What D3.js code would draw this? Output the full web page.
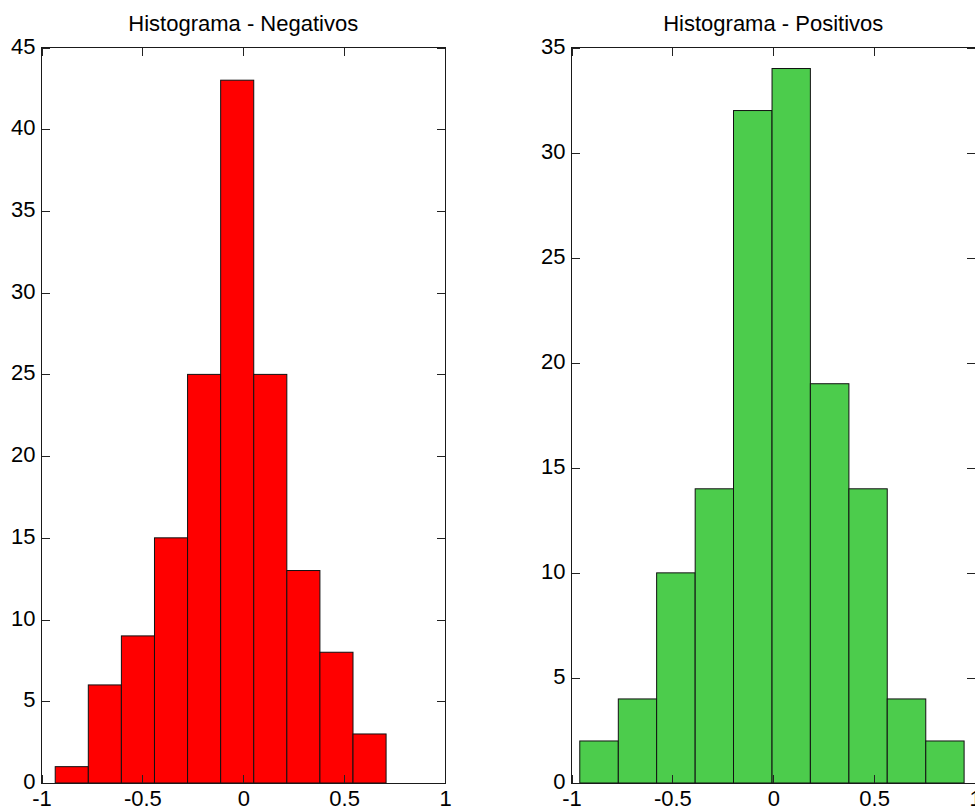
<!DOCTYPE html>
<html>
<head>
<meta charset="utf-8">
<script src="https://cdn.jsdelivr.net/npm/d3@7"></script>
<style>
  html, body { margin: 0; padding: 0; background: #fff; overflow: hidden; }
  svg { display: block; }
  text { font-family: "Liberation Sans", Arial, sans-serif; fill: #000; }
</style>
</head>
<body>
<svg id="chart" width="975" height="810"></svg>
<script>
// ---- data ----
const titleNeg = "Histograma - Negativos";
const titlePos = "Histograma - Positivos";
const edgesNeg = [-0.932, -0.768, -0.604, -0.440, -0.276, -0.112, 0.052, 0.216, 0.380, 0.544, 0.708];
const countsNeg = [1, 6, 9, 15, 25, 43, 25, 13, 8, 3];
const edgesPos = [-0.959, -0.768, -0.578, -0.387, -0.197, -0.006, 0.184, 0.375, 0.565, 0.756, 0.946];
const countsPos = [2, 4, 10, 14, 32, 34, 19, 14, 4, 2];
const xTicks = [-1, -0.5, 0, 0.5, 1];
const yTicksNeg = [0, 5, 10, 15, 20, 25, 30, 35, 40, 45];
const yTicksPos = [0, 5, 10, 15, 20, 25, 30, 35];

const svg = d3.select("#chart");
const fontSize = 22;

function panel(left, title, edges, counts, yTicks, yMax, color) {
  const top = 47.5, bottom = 783, width = 403.5;
  const x = d3.scaleLinear().domain([-1, 1]).range([0, width]);
  const y = d3.scaleLinear().domain([0, yMax]).range([bottom - top, 0]);
  const h = bottom - top;
  const g = svg.append("g").attr("transform", `translate(${left},${top})`);

  g.append("rect").attr("x", 0).attr("y", 0).attr("width", width).attr("height", h)
    .attr("fill", "#fff");

  const bins = counts.map((c, i) => ({ x0: edges[i], x1: edges[i + 1], c }));
  g.selectAll("rect.bar").data(bins).enter().append("rect")
    .attr("class", "bar")
    .attr("x", d => x(d.x0))
    .attr("y", d => y(d.c))
    .attr("width", d => x(d.x1) - x(d.x0))
    .attr("height", d => y(0) - y(d.c))
    .attr("fill", color)
    .attr("stroke", "#111")
    .attr("stroke-width", 1);

  const styleAxis = sel => {
    sel.select(".domain").remove();
    sel.selectAll(".tick line").attr("stroke", "#222").attr("shape-rendering", "crispEdges");
    sel.selectAll(".tick text").style("font-size", fontSize + "px")
      .style("font-family", '"Liberation Sans", Arial, sans-serif').attr("fill", "#000");
  };

  g.append("g").call(d3.axisLeft(y).tickValues(yTicks).tickFormat(d3.format("d"))
      .tickSizeInner(-8).tickSizeOuter(0).tickPadding(6))
    .call(styleAxis)
    .selectAll(".tick text").attr("dy", "0.25em");
  g.append("g").attr("transform", `translate(${width},0)`)
    .call(d3.axisRight(y).tickValues(yTicks).tickFormat("").tickSizeInner(-8).tickSizeOuter(0))
    .call(styleAxis);
  g.append("g").attr("transform", `translate(0,${h})`)
    .call(d3.axisBottom(x).tickValues(xTicks).tickFormat(d3.format("")).tickSizeInner(-8).tickSizeOuter(0).tickPadding(7))
    .call(styleAxis)
    .selectAll(".tick text").attr("dy", "0.71em").text(d => d3.format("")(d).replace("−", "-"));
  g.append("g")
    .call(d3.axisTop(x).tickValues(xTicks).tickFormat("").tickSizeInner(-8).tickSizeOuter(0))
    .call(styleAxis);

  g.append("rect").attr("x", 0).attr("y", 0).attr("width", width).attr("height", h)
    .attr("fill", "none").attr("stroke", "#1a1a1a").attr("stroke-width", 1)
    .attr("shape-rendering", "crispEdges");

  g.append("text").attr("x", width / 2).attr("y", 31 - top)
    .attr("text-anchor", "middle").style("font-size", fontSize + "px").text(title);
}

panel(41.5, titleNeg, edgesNeg, countsNeg, yTicksNeg, 45, "#ff0000");
panel(571.5, titlePos, edgesPos, countsPos, yTicksPos, 35, "#4ccc4c");
</script>
</body>
</html>
